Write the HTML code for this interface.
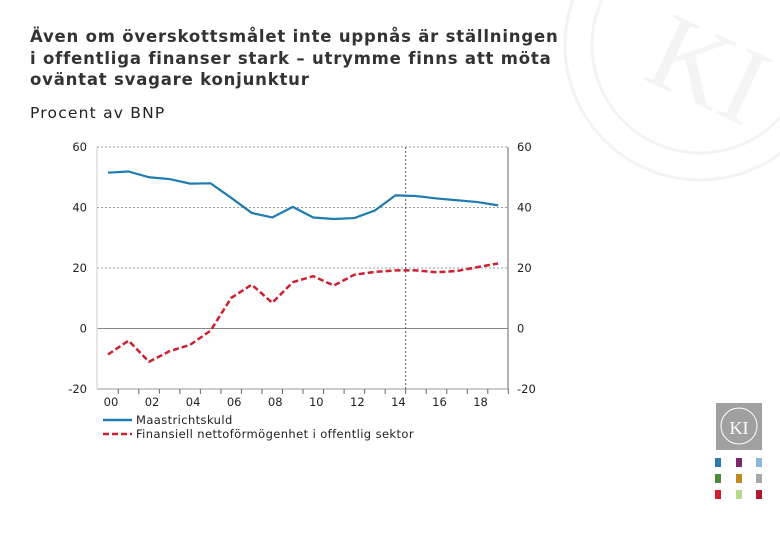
<!DOCTYPE html>
<html><head><meta charset="utf-8"><style>
body{margin:0;width:780px;height:540px;background:#fff;font-family:"DejaVu Sans",sans-serif;position:relative;overflow:hidden}
.t{position:absolute;left:30px;top:26px;font-size:16.5px;line-height:21.5px;color:#333;font-weight:bold;white-space:nowrap;letter-spacing:0.8px}
.s{position:absolute;left:30px;top:104px;font-size:15.5px;color:#222;letter-spacing:1.2px}
</style></head><body>
<svg width="780" height="540" style="position:absolute;left:0;top:0">
<circle cx="700" cy="45" r="135" fill="none" stroke="#f3f3f3" stroke-width="3"/>
<circle cx="700" cy="45" r="108" fill="none" stroke="#f3f3f3" stroke-width="3"/>
<text x="660" y="100" font-family="Liberation Serif" font-size="110" fill="#f4f4f4" transform="rotate(25 700 45)">KI</text>
<rect x="716" y="403" width="46" height="47" fill="#a0a0a0"/>
<text x="739" y="434" text-anchor="middle" font-family="Liberation Serif" font-size="18" fill="#fff">KI</text>
<circle cx="739" cy="426" r="18" fill="none" stroke="#fff" stroke-width="1"/>
<rect x="715" y="458" width="6" height="9" fill="#2a7ab0"/><rect x="736" y="458" width="6" height="9" fill="#7a2a6a"/><rect x="756" y="458" width="6" height="9" fill="#8ab8d8"/>
<rect x="715" y="474" width="6" height="9" fill="#4a8a3a"/><rect x="736" y="474" width="6" height="9" fill="#c08a20"/><rect x="756" y="474" width="6" height="9" fill="#a0a8a8"/>
<rect x="715" y="490" width="6" height="9" fill="#d02030"/><rect x="736" y="490" width="6" height="9" fill="#b8d890"/><rect x="756" y="490" width="6" height="9" fill="#b01830"/>
</svg>
<div class="t">Även om överskottsmålet inte uppnås är ställningen<br>i offentliga finanser stark – utrymme finns att möta<br>oväntat svagare konjunktur</div>
<div class="s">Procent av BNP</div>
<svg id="c" width="780" height="540" style="position:absolute;left:0;top:0"></svg>
<script>
const years=[2000,2001,2002,2003,2004,2005,2006,2007,2008,2009,2010,2011,2012,2013,2014,2015,2016,2017,2018,2019];
const maastricht=[51.5,51.9,50.0,49.4,47.9,48.0,43.2,38.2,36.7,40.2,36.7,36.2,36.5,39.0,44.0,43.8,43.0,42.4,41.8,40.7];
const netto=[-8.6,-4.0,-11.0,-7.5,-5.4,-0.7,10.1,14.5,8.5,15.3,17.3,14.2,17.8,18.7,19.2,19.2,18.6,19.0,20.3,21.5];
const yTicks=[60,40,20,0,-20];
const xLabels=["00","02","04","06","08","10","12","14","16","18"];
const svg=document.getElementById('c');const NS='http://www.w3.org/2000/svg';
const L=97,R=508,T=147,B=389;
const x=y=>108+(y-2000)*20.53;
const yv=v=>T+(60-v)*(B-T)/80;
function mk(t,a,p){const e=document.createElementNS(NS,t);for(const k in a)e.setAttribute(k,a[k]);(p||svg).appendChild(e);return e;}
yTicks.forEach(v=>{
 const g=mk('line',{x1:L,x2:R,y1:yv(v),y2:yv(v),stroke:v===0?'#888':'#999','stroke-dasharray':v===0||v===-20?'':'2,2','stroke-width':1});
 
 
 const a=mk('text',{x:L-10,y:yv(v)+4,'text-anchor':'end','font-size':11.5,fill:'#222'});a.textContent=v;
 
 
 const b=mk('text',{x:R+9,y:yv(v)+4,'font-size':11.5,fill:'#222'});b.textContent=v;
 
 
});
mk('line',{x1:L,x2:L,y1:T,y2:B,stroke:'#ccc'});
mk('line',{x1:R,x2:R,y1:T,y2:B,stroke:'#999','stroke-width':1.5});
const vl=mk('line',{x1:x(2014.5),x2:x(2014.5),y1:T,y2:B,stroke:'#555','stroke-dasharray':'2,2'});


for(let i=0;i<20;i++){mk('line',{x1:x(1999.5+i+1),x2:x(1999.5+i+1),y1:B,y2:B+5,stroke:'#666'});}
xLabels.forEach((s,i)=>{const t=mk('text',{x:x(2000+2*i)+3,y:B+17,'text-anchor':'middle','font-size':11.5,fill:'#222'});t.textContent=s;
 
 });
const p1=mk('polyline',{points:years.map((y,i)=>x(y)+','+yv(maastricht[i])).join(' '),fill:'none',stroke:'#1f7bb0','stroke-width':2.2});


const p2=mk('polyline',{points:years.map((y,i)=>x(y)+','+yv(netto[i])).join(' '),fill:'none',stroke:'#cc2030','stroke-width':2.5,'stroke-dasharray':'6,3'});


[['Maastrichtskuld','#1f7bb0',''],['Finansiell nettoförmögenhet i offentlig sektor','#cc2030','6,3']].forEach((e,i)=>{
 const g=mk('g',{});
 
 
 mk('line',{x1:103,x2:132,y1:420+i*14,y2:420+i*14,stroke:e[1],'stroke-width':2.5,'stroke-dasharray':e[2]},g);
 const t=mk('text',{x:136,y:424+i*14,'font-size':11.5,fill:'#222','letter-spacing':0.4},g);t.textContent=e[0];
});
</script>
</body></html>
